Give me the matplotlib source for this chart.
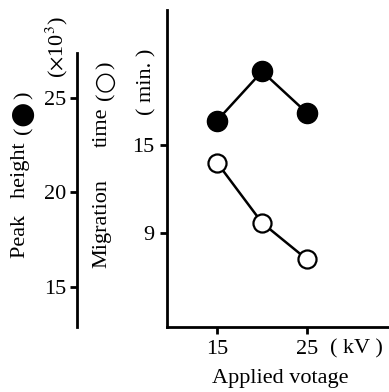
import matplotlib.pyplot as plt

# data
voltage = [15, 20, 25]             # kV
peak_height = [23.8, 26.4, 24.2]   # x10^3
migration_time = [13.8, 9.7, 7.2]  # min

plt.rcParams['font.family'] = ['Liberation Serif', 'DejaVu Sans']
plt.rcParams['mathtext.fontset'] = 'stix'
FS = 16

W, H = 389, 392
fig = plt.figure(figsize=(W / 100, H / 100), dpi=100)


def px(x, y):
    # pixel position -> figure fraction
    return x / W, 1 - y / H


ax = fig.add_axes([167 / W, 1 - 327 / H, 222 / W, 317 / H])
ax.plot(voltage, migration_time, '-o', color='black', mfc='white',
        ms=13, mew=1.6, lw=1.8, clip_on=False)
ax.set_xlim(9.44, 34.1)
ax.set_ylim(2.6, 24.2)
ax.set_xticks([15, 25])
ax.set_yticks([9, 15])
ax.spines[['top', 'right']].set_visible(False)
for s in ['left', 'bottom']:
    ax.spines[s].set_linewidth(2)
ax.tick_params(labelsize=FS, width=2, length=5, pad=4)
ax.tick_params(axis='x', pad=4)

# peak height on a second axis whose spine sits further left
ax2 = ax.twinx()
ax2.plot(voltage, peak_height, '-o', color='black', ms=14.5, lw=1.8)
ax2.set_ylim(12.88, 29.65)
ax2.set_yticks([15, 20, 25])
ax2.yaxis.set_ticks_position('left')
ax2.spines[['top', 'right', 'bottom']].set_visible(False)
ax2.spines['left'].set_visible(True)
ax2.spines['left'].set_position(('axes', -90 / 222))
ax2.spines['left'].set_bounds(12.9, 27.4)
ax2.spines['left'].set_linewidth(2)
ax2.tick_params(labelsize=FS, width=2, length=5, pad=3)

# axis titles (rotated)
rot = dict(rotation=90, ha='center', va='center', fontsize=FS)
sym = dict(rotation=90, ha='center', va='center', family='DejaVu Sans')
fig.text(*px(21, 200), 'Peak   height', **rot)
fig.text(*px(24, 130), '(', **rot)
fig.text(*px(22, 113), '●', fontsize=21, **sym)
fig.text(*px(24, 95), ')', **rot)
fig.text(*px(57, 47), r'($\times$10$^3$)', **rot)
fig.text(*px(102, 223), 'Migration', **rot)
fig.text(*px(102, 127), 'time', **rot)
fig.text(*px(106, 96), '(', **rot)
fig.text(*px(104, 81), '○', fontsize=18, **sym)
fig.text(*px(106, 65), ')', **rot)
fig.text(*px(147, 82), '( min. )', **rot)

fig.text(*px(356, 349), '( kV )', ha='center', va='center', fontsize=FS)
fig.text(*px(280, 378), 'Applied votage', ha='center', va='center', fontsize=FS)

fig.savefig('out.png', dpi=100)
